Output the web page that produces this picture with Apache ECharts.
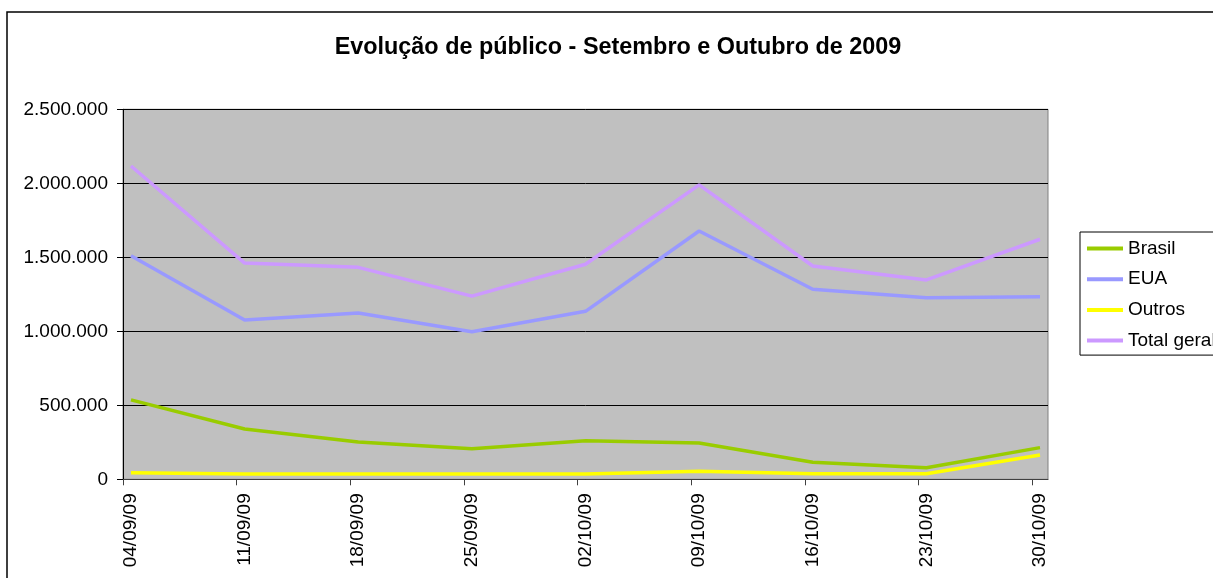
<!DOCTYPE html>
<html>
<head>
<meta charset="utf-8">
<script src="https://cdn.jsdelivr.net/npm/echarts@6/dist/echarts.min.js"></script>
<style>
html,body{margin:0;padding:0;background:#fff;}
#c{width:1213px;height:578px;}
</style>
</head>
<body>
<div id="c"></div>
<script>
var categories = ['04/09/09','11/09/09','18/09/09','25/09/09','02/10/09','09/10/09','16/10/09','23/10/09','30/10/09'];
var brasil = [537000, 340000, 252000, 207000, 261000, 245000, 115000, 78000, 214000];
var eua    = [1511000, 1076000, 1124000, 997000, 1135000, 1678000, 1284000, 1227000, 1234000];
var outros = [45000, 36000, 36000, 36000, 36000, 54000, 38000, 38000, 164000];
var total  = [2117000, 1461000, 1432000, 1238000, 1453000, 1989000, 1441000, 1347000, 1622000];
var yTicks = [0, 500000, 1000000, 1500000, 2000000, 2500000];

var FONT = "'Liberation Sans', Arial, sans-serif";
var edge = 0.0704; // gap between category tick and plotted point (fraction of step)

function pts(arr){ return arr.map(function(v,i){ return [i, v]; }); }
function fmt(v){ return String(v).replace(/\B(?=(\d{3})+(?!\d))/g, '.'); }

var labelVals = categories.map(function(c,i){ return i; });
var tickVals = categories.map(function(c,i){ return i - edge; });

var chart = echarts.init(document.getElementById('c'), null, {renderer:'canvas'});
chart.setOption({
  backgroundColor: '#ffffff',
  animation: false,
  title: {
    text: 'Evolução de público - Setembro e Outubro de 2009',
    left: 613, top: 31, textAlign: 'center',
    textStyle: {fontFamily: FONT, fontWeight: 'bold', fontSize: 23.4, color: '#000'}
  },
  graphic: [{
    type: 'rect', silent: true, z: -1,
    shape: {x: 7, y: 12, width: 1230, height: 600},
    style: {fill: 'none', stroke: '#000', lineWidth: 1.5}
  }],
  legend: {
    orient: 'vertical',
    left: 1080, top: 232,
    padding: [7, 30, 5, 7],
    itemWidth: 36, itemHeight: 4, itemGap: 11.7,
    icon: 'rect',
    borderColor: '#000', borderWidth: 1,
    backgroundColor: '#fff',
    textStyle: {fontFamily: FONT, fontSize: 19, color: '#000'},
    data: ['Brasil','EUA','Outros','Total geral']
  },
  grid: {
    left: 123, top: 109.3, right: 165, bottom: 98.7,
    show: true, backgroundColor: '#C0C0C0', borderColor: '#808080', borderWidth: 1
  },
  xAxis: {
    type: 'value', min: -edge, max: categories.length - 1 + edge,
    axisLine: {show: true, onZero: false, lineStyle: {color: '#404040', width: 1}},
    axisTick: {show: true, inside: false, length: 6, customValues: tickVals, lineStyle: {color: '#404040'}},
    axisLabel: {
      customValues: labelVals, rotate: 90, margin: 14,
      fontFamily: FONT, fontSize: 19, color: '#000',
      formatter: function(v){ return categories[Math.round(v)]; }
    },
    splitLine: {show: false}
  },
  yAxis: {
    type: 'value', min: 0, max: 2500000, interval: 500000,
    axisLine: {show: true, onZero: false, lineStyle: {color: '#000', width: 1}},
    axisTick: {show: true, inside: false, length: 6, lineStyle: {color: '#000'}},
    axisLabel: {margin: 15, fontFamily: FONT, fontSize: 19, color: '#000', formatter: fmt},
    splitLine: {show: true, lineStyle: {color: '#000', width: 1}}
  },
  series: [
    {name: 'Brasil', type: 'line', data: pts(brasil), showSymbol: false, symbol: 'none',
     color: '#99CC00', lineStyle: {width: 3.5, color: '#99CC00'}},
    {name: 'EUA', type: 'line', data: pts(eua), showSymbol: false, symbol: 'none',
     color: '#9999FF', lineStyle: {width: 3.5, color: '#9999FF'}},
    {name: 'Outros', type: 'line', data: pts(outros), showSymbol: false, symbol: 'none',
     color: '#FFFF00', lineStyle: {width: 3.5, color: '#FFFF00'}},
    {name: 'Total geral', type: 'line', data: pts(total), showSymbol: false, symbol: 'none',
     color: '#CC99FF', lineStyle: {width: 3.5, color: '#CC99FF'}}
  ]
});
</script>
</body>
</html>
